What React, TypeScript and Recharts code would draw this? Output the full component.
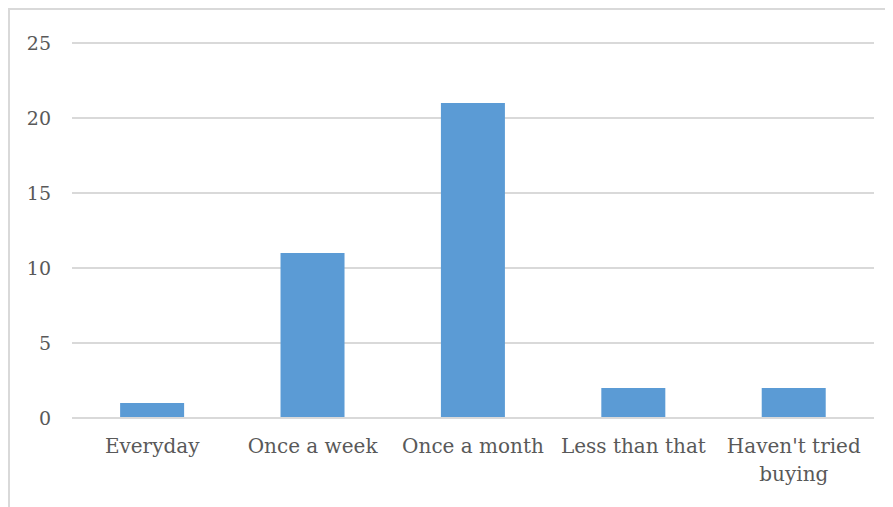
import { BarChart, Bar, XAxis, YAxis, CartesianGrid } from "recharts";

const categories = ["Everyday", "Once a week", "Once a month", "Less than that", "Haven't tried buying"];
const counts = [1, 11, 21, 2, 2];
const yTicks = [0, 5, 10, 15, 20, 25];

const data = categories.map((name, i) => ({ name, value: counts[i] }));

const FONT = "'DejaVu Serif', serif";

// wrap a label into lines of at most 14 chars
const wrap = (s: string) => {
    const words = s.split(" ");
    const lines: string[] = [];
    let cur = "";
    for (const w of words) {
        const next = cur ? cur + " " + w : w;
        if (next.length > 14 && cur) {
            lines.push(cur);
            cur = w;
        } else cur = next;
    }
    if (cur) lines.push(cur);
    return lines;
};

const XTick = (props: any) => {
    const { x, y, payload } = props;
    const lines = wrap(String(payload.value));
    return (
        <text x={x} y={y} textAnchor="middle" fill="#595959" fontSize={20} fontFamily={FONT}>
            {lines.map((l, i) => (
                <tspan key={i} x={x} dy={i === 0 ? 25 : 28}>{l}</tspan>
            ))}
        </text>
    );
};

export default function App() {
    return (
        <div style={{ width: 885, height: 499, borderTop: "2px solid #d9d9d9", borderLeft: "2px solid #d9d9d9", background: "#fff" }}>
            <BarChart width={883} height={497} data={data} barCategoryGap="30%"
                margin={{ top: 33, right: 19, left: 12, bottom: 29 }}>
                <CartesianGrid vertical={false} stroke="#d9d9d9" strokeWidth={2} />
                <XAxis dataKey="name" tick={<XTick />} tickLine={false} axisLine={{ stroke: "#d9d9d9", strokeWidth: 2 }}
                    height={60} interval={0} tickMargin={4} />
                <YAxis domain={[0, 25]} ticks={yTicks} tickLine={false} axisLine={false} width={50} tickMargin={15}
                    tick={{ fill: "#595959", fontSize: 19, fontFamily: FONT }} />
                <Bar dataKey="value" fill="#5B9BD5" isAnimationActive={false} />
            </BarChart>
        </div>
    );
}
